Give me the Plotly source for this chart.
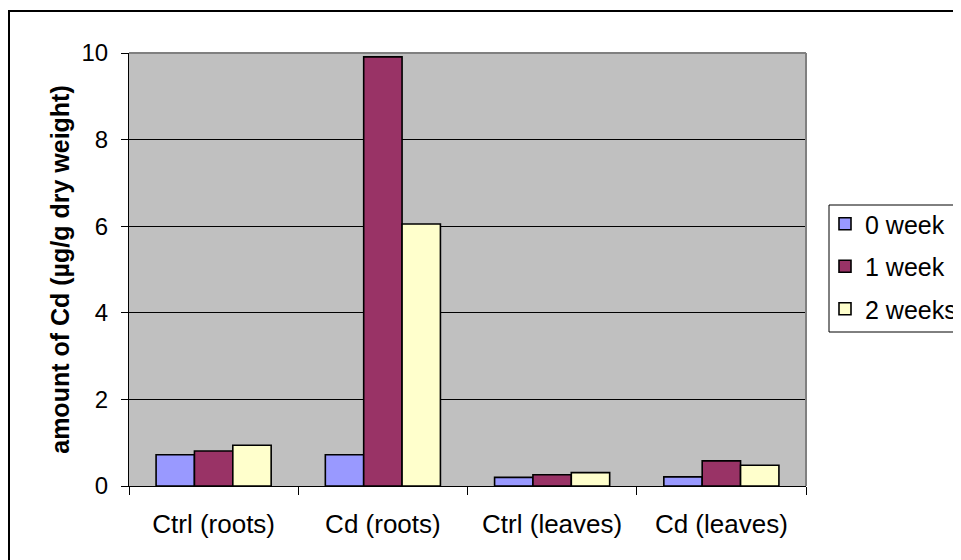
import plotly.graph_objects as go

categories = ["Ctrl (roots)", "Cd (roots)", "Ctrl (leaves)", "Cd (leaves)"]
series_names = ["0 week", "1 week", "2 weeks"]
week0 = [0.72, 0.72, 0.20, 0.21]
week1 = [0.81, 9.91, 0.26, 0.58]
week2 = [0.94, 6.05, 0.31, 0.48]
colors = ["#9999FF", "#993366", "#FFFFCC"]
y_ticks = [0, 2, 4, 6, 8, 10]

FONT = "Liberation Sans, Arial, sans-serif"

fig = go.Figure()
for name, vals, col in zip(series_names, [week0, week1, week2], colors):
    fig.add_trace(go.Bar(
        x=categories, y=vals, name=name, legendgroup=name,
        marker=dict(color=col, line=dict(color="black", width=1.6)),
    ))

# page body has an 8px margin; layout in figure pixels = screen - 8
OFF = 8
W, H = 961, 560
L, R, T, B = 129 - OFF, 806 - OFF, 53 - OFF, 486 - OFF
pw, ph = R - L, B - T

def px_x(sx):
    return (sx - OFF - L) / pw

def px_y(sy):
    return (B - (sy - OFF)) / ph

fig.update_layout(
    width=W, height=H,
    margin=dict(l=L, r=W - R, t=T, b=H - B, pad=0, autoexpand=False),
    paper_bgcolor="white",
    plot_bgcolor="#C0C0C0",
    barmode="group",
    bargap=0.32,
    bargroupgap=0,
    font=dict(family=FONT, size=22, color="black"),
    showlegend=True,
    legend=dict(
        x=px_x(825), y=px_y(201), xanchor="left", yanchor="top",
        borderwidth=0, bgcolor="rgba(0,0,0,0)",
        font=dict(family=FONT, size=25, color="black"),
        tracegroupgap=7,
        itemwidth=30,
    ),
    xaxis=dict(
        automargin=False,
        showgrid=False, showline=True, linecolor="black", linewidth=1,
        ticks="outside", tickson="boundaries", ticklen=8, tickcolor="black",
        tickfont=dict(family=FONT, size=26),
        ticklabelstandoff=15,
    ),
    yaxis=dict(
        automargin=False,
        range=[0, 10], tickvals=y_ticks, ticktext=[str(v) for v in y_ticks],
        showgrid=True, gridcolor="black", gridwidth=1,
        showline=True, linecolor="black", linewidth=1,
        ticks="outside", ticklen=7, tickcolor="black",
        tickfont=dict(family=FONT, size=24),
        ticklabelstandoff=8,
        zeroline=False,
        title=dict(text="<b>amount of Cd (µg/g dry weight)</b>",
                   font=dict(family=FONT, size=25), standoff=4),
    ),
    shapes=[
        # plot area border (gray, top & right)
        dict(type="line", xref="paper", yref="paper", x0=0, x1=1, y0=1, y1=1,
             line=dict(color="#808080", width=2)),
        dict(type="line", xref="paper", yref="paper", x0=1, x1=1, y0=0, y1=1,
             line=dict(color="#808080", width=2)),
        # legend box
        dict(type="rect", xref="paper", yref="paper",
             x0=px_x(829), x1=px_x(990), y0=px_y(332), y1=px_y(205),
             line=dict(color="black", width=1)),
        # outer chart border
        dict(type="rect", xref="paper", yref="paper",
             x0=px_x(9), x1=px_x(990), y0=px_y(590), y1=px_y(11),
             line=dict(color="black", width=2), layer="below"),
    ],
)

fig.write_html("out.html")
